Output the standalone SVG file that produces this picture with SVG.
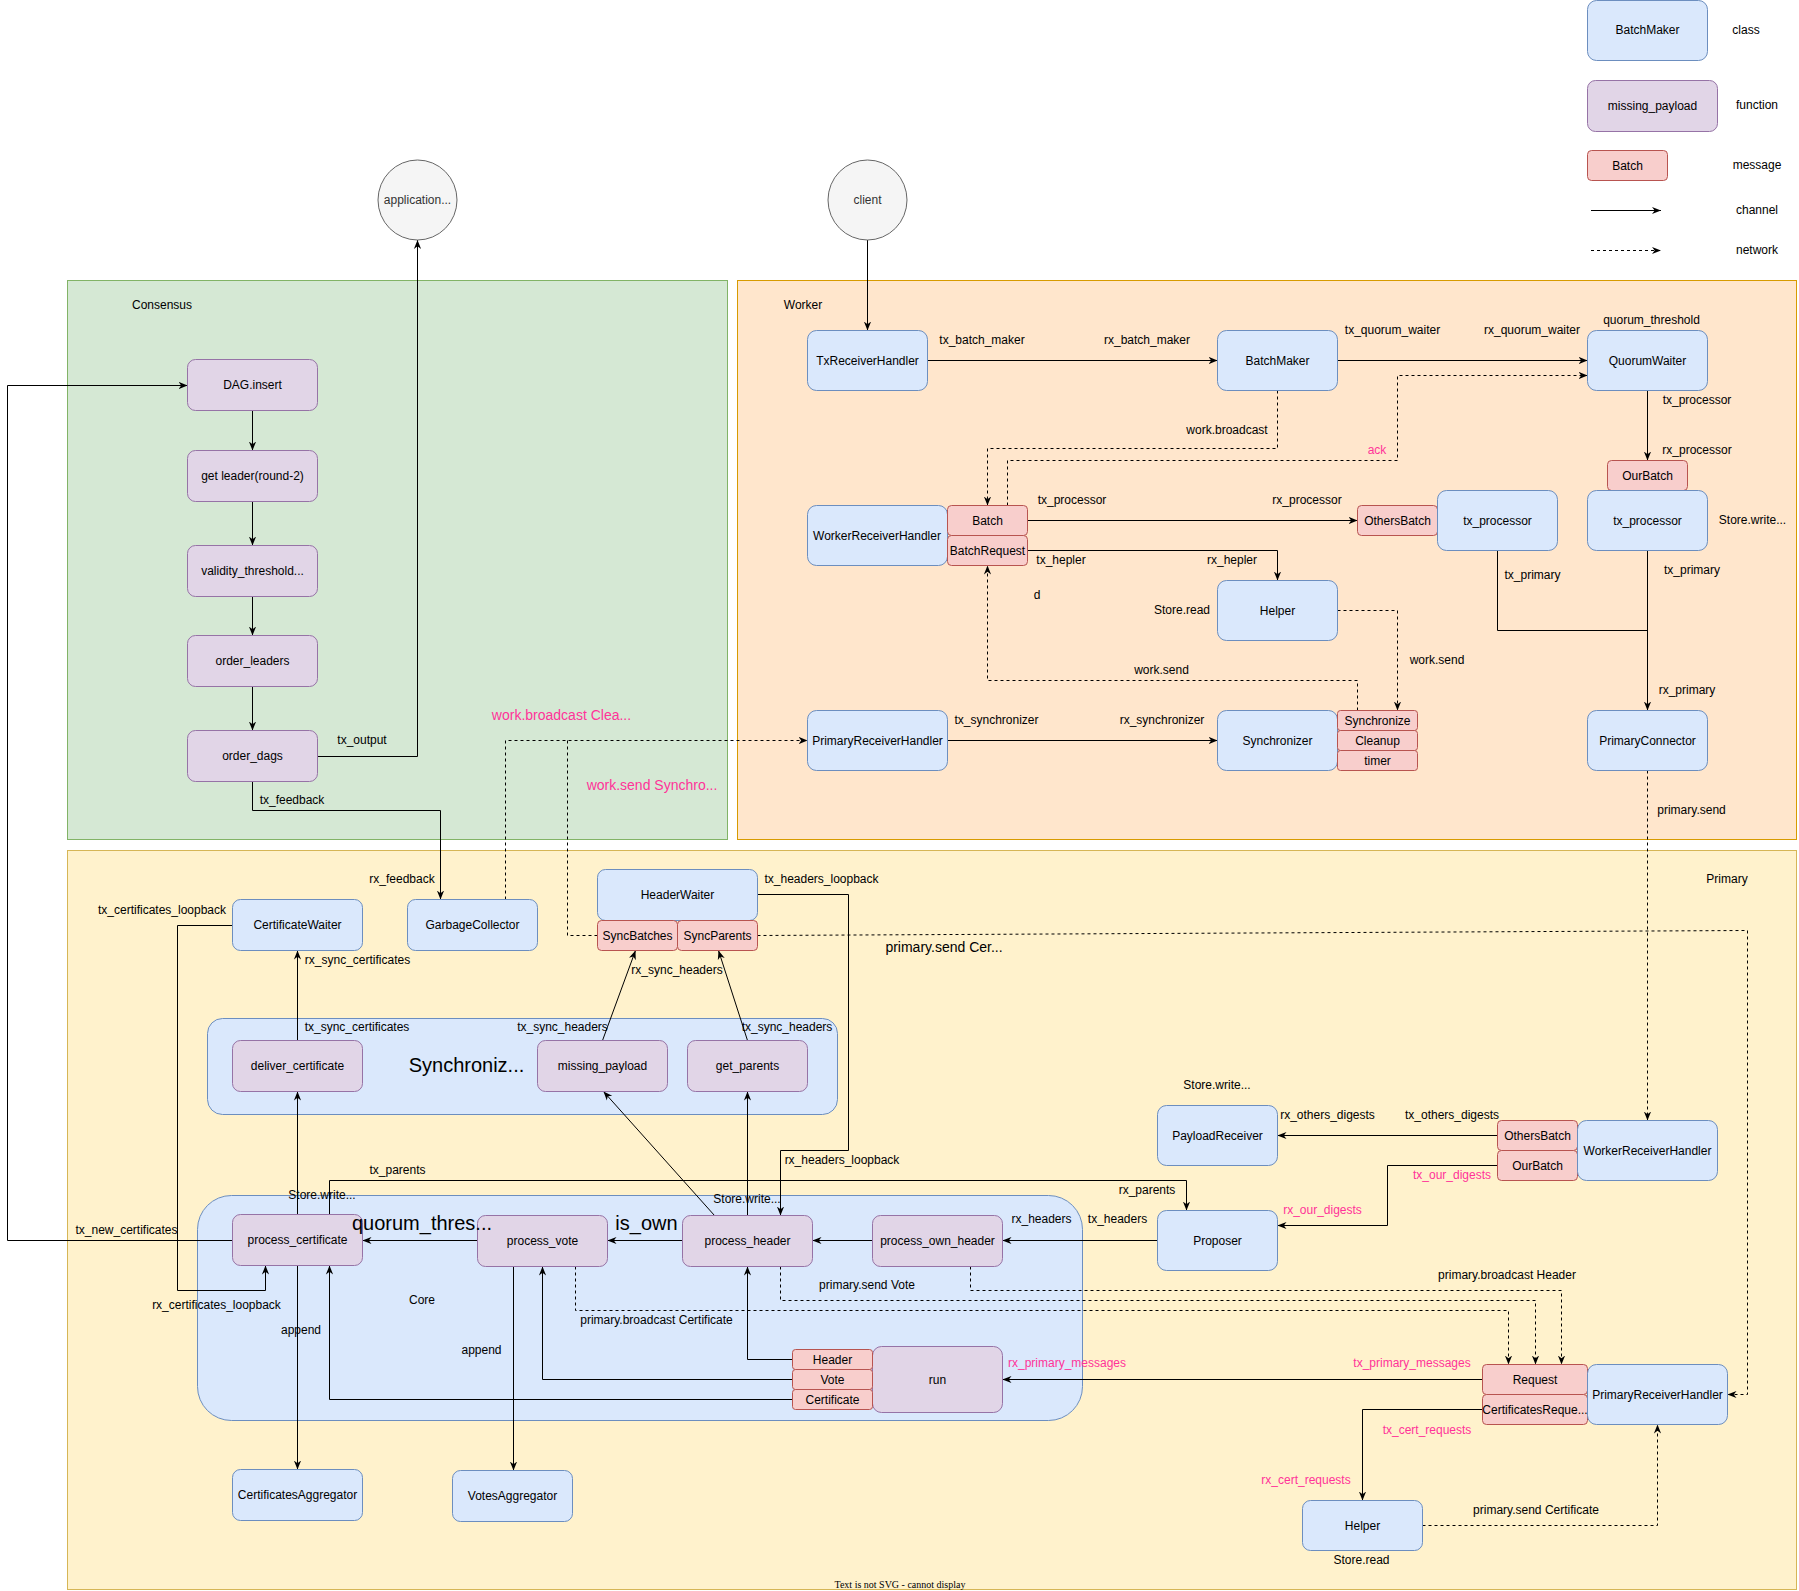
<svg xmlns="http://www.w3.org/2000/svg" width="1799" height="1591" viewBox="0 0 1799 1591">
<defs>
<style>
text{font-family:"Liberation Sans",Arial,Helvetica,sans-serif;font-size:12px;fill:#000;text-anchor:middle;dominant-baseline:central}
.big{font-size:20px}
.mid{font-size:14px}
.pk{fill:#FF3399}
.cls{fill:#dae8fc;stroke:#6c8ebf;stroke-width:1}
.fn{fill:#e1d5e7;stroke:#9673a6;stroke-width:1}
.msg{fill:#f8cecc;stroke:#b85450;stroke-width:1}
.e{fill:none;stroke:#000;stroke-width:1}
.ea{fill:none;stroke:#000;stroke-width:1;marker-end:url(#arr)}
.d{fill:none;stroke:#000;stroke-width:1;stroke-dasharray:3 3}
.da{fill:none;stroke:#000;stroke-width:1;stroke-dasharray:3 3;marker-end:url(#arr)}
.circ{fill:#f5f5f5;stroke:#666666;stroke-width:1}
</style>
<marker id="arr" viewBox="0 0 10 10" refX="10" refY="5" markerWidth="9" markerHeight="9" orient="auto" markerUnits="userSpaceOnUse">
<path d="M0,1 L10,5 L0,9 L3,5 z" fill="#000"/>
</marker>
</defs>
<rect width="1799" height="1591" fill="#ffffff"/>

<!-- groups -->
<g id="consensus-group">
<rect x="67.5" y="280.5" width="660" height="559" fill="#d5e8d4" stroke="#82b366"/>
<text x="162" y="305">Consensus</text>
</g>
<g id="worker-group">
<rect x="737.5" y="280.5" width="1059" height="559" fill="#ffe6cc" stroke="#d79b00"/>
<text x="803" y="305">Worker</text>
</g>
<g id="primary-group">
<rect x="67.5" y="850.5" width="1729" height="739" fill="#fff2cc" stroke="#d6b656"/>
<text x="1727" y="879">Primary</text>
</g>
<g id="synchronizer-container">
<rect x="207.5" y="1018.5" width="630" height="96" rx="15" class="cls"/>
<text x="466.5" y="1065" class="big">Synchroniz...</text>
</g>
<g id="core-container">
<rect x="197.5" y="1195.5" width="885" height="225" rx="34" class="cls"/>
<text x="422" y="1300">Core</text>
</g>

<!-- legend -->
<g id="legend">
<rect x="1587.5" y="0.5" width="120" height="60" rx="9" class="cls"/>
<text x="1647.5" y="30">BatchMaker</text>
<text x="1746" y="30">class</text>
<rect x="1587.5" y="80.5" width="130" height="51" rx="8" class="fn"/>
<text x="1652.5" y="106">missing_payload</text>
<text x="1757" y="105">function</text>
<rect x="1587.5" y="150.5" width="80" height="30" rx="4" class="msg"/>
<text x="1627.5" y="165.5">Batch</text>
<text x="1757" y="165">message</text>
<path d="M1591,210.5 H1661" class="ea"/>
<text x="1757" y="210">channel</text>
<path d="M1591,250.5 H1661" class="da"/>
<text x="1757" y="250">network</text>
</g>

<!-- connectors -->
<g id="connectors">
<path d="M867.5,240 V330.5" class="ea"/>
<path d="M927.5,360.5 H1217.5" class="ea"/>
<path d="M1337.5,360.5 H1587.5" class="ea"/>
<path d="M1647.5,390.5 V460.5" class="ea"/>
<path d="M1027.5,520.5 H1357.5" class="ea"/>
<path d="M1027.5,550.5 H1277.5 V580.5" class="ea"/>
<path d="M1497.5,550.5 V630.5 H1647.5" class="e"/>
<path d="M1647.5,550.5 V710.5" class="ea"/>
<path d="M947.5,740.5 H1217.5" class="ea"/>
<path d="M252.5,410.5 V450.5" class="ea"/>
<path d="M252.5,501.5 V545.5" class="ea"/>
<path d="M252.5,596.5 V635.5" class="ea"/>
<path d="M252.5,686.5 V730.5" class="ea"/>
<path d="M317.5,756.5 H417.5 V240" class="ea"/>
<path d="M252.5,781.5 V810.5 H440.5 V899.5" class="ea"/>
<path d="M297.5,1040.5 V950.5" class="ea"/>
<path d="M602.5,1040.5 L635.5,950.5" class="ea"/>
<path d="M747.5,1040.5 L718.5,950.5" class="ea"/>
<path d="M232.5,925.5 H177.5 V1290.5 H265.5 V1265.5" class="ea"/>
<path d="M757.5,894.5 H848.5 V1150.5 H780.5 V1215.5" class="ea"/>
<path d="M297.5,1214.5 V1091.5" class="ea"/>
<path d="M297.5,1265.5 V1469.5" class="ea"/>
<path d="M513.5,1266.5 V1470.5" class="ea"/>
<path d="M477.5,1240.5 H362.5" class="ea"/>
<path d="M682.5,1240.5 H607.5" class="ea"/>
<path d="M872.5,1240.5 H812.5" class="ea"/>
<path d="M1157.5,1240.5 H1002.5" class="ea"/>
<path d="M714.5,1215.5 L603.5,1091.5" class="ea"/>
<path d="M747.5,1215.5 V1091.5" class="ea"/>
<path d="M329.5,1214.5 V1180.5 H1186.5 V1210.5" class="ea"/>
<path d="M232.5,1240.5 H7.5 V385.5 H187.5" class="ea"/>
<path d="M792.5,1359.5 H747.5 V1266.5" class="ea"/>
<path d="M792.5,1379.5 H542.5 V1266.5" class="ea"/>
<path d="M792.5,1399.5 H329.5 V1265.5" class="ea"/>
<path d="M1482.5,1379.5 H1002.5" class="ea"/>
<path d="M1482.5,1409.5 H1362.5 V1500.5" class="ea"/>
<path d="M1497.5,1135.5 H1277.5" class="ea"/>
<path d="M1497.5,1165.5 H1387.5 V1225.5 H1277.5" class="ea"/>
<path d="M1277.5,390.5 V448.5 H987.5 V505.5" class="da"/>
<path d="M1007.5,505.5 V460.5 H1397.5 V375.5 H1587.5" class="da"/>
<path d="M1337.5,610.5 H1397.5 V710.5" class="da"/>
<path d="M1357.5,710.5 V680.5 H987.5 V565.5" class="da"/>
<path d="M1647.5,770.5 V1120.5" class="da"/>
<path d="M505.5,899.5 V740.5 H807.5" class="da"/>
<path d="M597.5,935.5 H567.5 V740.5" class="d"/>
<path d="M757.5,935.5 L1747.5,930.5 V1394.5 H1727.5" class="da"/>
<path d="M970.5,1266.5 V1290.5 H1561.5 V1364.5" class="da"/>
<path d="M780.5,1266.5 V1300.5 H1535.5 V1364.5" class="da"/>
<path d="M575.5,1266.5 V1310.5 H1508.5 V1364.5" class="da"/>
<path d="M1422.5,1525.5 H1657.5 V1424.5" class="da"/>
</g>

<!-- external -->
<g id="application"><ellipse cx="417.5" cy="200" rx="39.5" ry="40" class="circ"/><text x="417.5" y="200" style="fill:#333">application...</text></g>
<g id="client"><ellipse cx="867.5" cy="200" rx="39.5" ry="40" class="circ"/><text x="867.5" y="200" style="fill:#333">client</text></g>

<!-- consensus nodes -->
<g id="dag-insert"><rect x="187.5" y="359.5" width="130" height="51" rx="8" class="fn"/><text x="252.5" y="385">DAG.insert</text></g>
<g id="get-leader"><rect x="187.5" y="450.5" width="130" height="51" rx="8" class="fn"/><text x="252.5" y="476">get leader(round-2)</text></g>
<g id="validity-threshold"><rect x="187.5" y="545.5" width="130" height="51" rx="8" class="fn"/><text x="252.5" y="571">validity_threshold...</text></g>
<g id="order-leaders"><rect x="187.5" y="635.5" width="130" height="51" rx="8" class="fn"/><text x="252.5" y="661">order_leaders</text></g>
<g id="order-dags"><rect x="187.5" y="730.5" width="130" height="51" rx="8" class="fn"/><text x="252.5" y="756">order_dags</text></g>

<!-- worker nodes -->
<g id="tx-receiver-handler"><rect x="807.5" y="330.5" width="120" height="60" rx="9" class="cls"/><text x="867.5" y="360.5">TxReceiverHandler</text></g>
<g id="batch-maker"><rect x="1217.5" y="330.5" width="120" height="60" rx="9" class="cls"/><text x="1277.5" y="360.5">BatchMaker</text></g>
<g id="quorum-waiter"><rect x="1587.5" y="330.5" width="120" height="60" rx="9" class="cls"/><text x="1647.5" y="360.5">QuorumWaiter</text></g>
<g id="worker-receiver-handler"><rect x="807.5" y="505.5" width="140" height="60" rx="9" class="cls"/><text x="877" y="535.5">WorkerReceiverHandler</text></g>
<g id="msg-batch"><rect x="947.5" y="505.5" width="80" height="30" rx="4" class="msg"/><text x="987.5" y="520.5">Batch</text></g>
<g id="msg-batchrequest"><rect x="947.5" y="535.5" width="80" height="30" rx="4" class="msg"/><text x="987.5" y="550.5">BatchRequest</text></g>
<g id="worker-helper"><rect x="1217.5" y="580.5" width="120" height="60" rx="9" class="cls"/><text x="1277.5" y="610.5">Helper</text></g>
<g id="primary-receiver-handler-w"><rect x="807.5" y="710.5" width="140" height="60" rx="9" class="cls"/><text x="877.5" y="740.5">PrimaryReceiverHandler</text></g>
<g id="synchronizer-w"><rect x="1217.5" y="710.5" width="120" height="60" rx="9" class="cls"/><text x="1277.5" y="740.5">Synchronizer</text></g>
<g id="msg-synchronize"><rect x="1337.5" y="710.5" width="80" height="20" rx="3" class="msg"/><text x="1377.5" y="720.5">Synchronize</text></g>
<g id="msg-cleanup"><rect x="1337.5" y="730.5" width="80" height="20" rx="3" class="msg"/><text x="1377.5" y="740.5">Cleanup</text></g>
<g id="msg-timer"><rect x="1337.5" y="750.5" width="80" height="20" rx="3" class="msg"/><text x="1377.5" y="760.5">timer</text></g>
<g id="msg-othersbatch-w"><rect x="1357.5" y="505.5" width="80" height="30" rx="4" class="msg"/><text x="1397.5" y="520.5">OthersBatch</text></g>
<g id="tx-processor-1"><rect x="1437.5" y="490.5" width="120" height="60" rx="9" class="cls"/><text x="1497.5" y="520.5">tx_processor</text></g>
<g id="msg-ourbatch-w"><rect x="1607.5" y="460.5" width="80" height="30" rx="4" class="msg"/><text x="1647.5" y="475.5">OurBatch</text></g>
<g id="tx-processor-2"><rect x="1587.5" y="490.5" width="120" height="60" rx="9" class="cls"/><text x="1647.5" y="520.5">tx_processor</text></g>
<g id="primary-connector"><rect x="1587.5" y="710.5" width="120" height="60" rx="9" class="cls"/><text x="1647.5" y="740.5">PrimaryConnector</text></g>

<!-- primary nodes -->
<g id="certificate-waiter"><rect x="232.5" y="899.5" width="130" height="51" rx="8" class="cls"/><text x="297.5" y="925">CertificateWaiter</text></g>
<g id="garbage-collector"><rect x="407.5" y="899.5" width="130" height="51" rx="8" class="cls"/><text x="472.5" y="925">GarbageCollector</text></g>
<g id="header-waiter"><rect x="597.5" y="869.5" width="160" height="51" rx="8" class="cls"/><text x="677.5" y="894.5">HeaderWaiter</text></g>
<g id="msg-syncbatches"><rect x="597.5" y="920.5" width="80" height="30" rx="4" class="msg"/><text x="637.5" y="935.5">SyncBatches</text></g>
<g id="msg-syncparents"><rect x="677.5" y="920.5" width="80" height="30" rx="4" class="msg"/><text x="717.5" y="935.5">SyncParents</text></g>
<g id="deliver-certificate"><rect x="232.5" y="1040.5" width="130" height="51" rx="8" class="fn"/><text x="297.5" y="1066">deliver_certificate</text></g>
<g id="missing-payload"><rect x="537.5" y="1040.5" width="130" height="51" rx="8" class="fn"/><text x="602.5" y="1066">missing_payload</text></g>
<g id="get-parents"><rect x="687.5" y="1040.5" width="120" height="51" rx="8" class="fn"/><text x="747.5" y="1066">get_parents</text></g>
<g id="process-certificate"><rect x="232.5" y="1214.5" width="130" height="51" rx="8" class="fn"/><text x="297.5" y="1240">process_certificate</text></g>
<g id="process-vote"><rect x="477.5" y="1215.5" width="130" height="51" rx="8" class="fn"/><text x="542.5" y="1241">process_vote</text></g>
<g id="process-header"><rect x="682.5" y="1215.5" width="130" height="51" rx="8" class="fn"/><text x="747.5" y="1241">process_header</text></g>
<g id="process-own-header"><rect x="872.5" y="1215.5" width="130" height="51" rx="8" class="fn"/><text x="937.5" y="1241">process_own_header</text></g>
<g id="run"><rect x="872.5" y="1346.5" width="130" height="66" rx="9" class="fn"/><text x="937.5" y="1379.5">run</text></g>
<g id="msg-header"><rect x="792.5" y="1349.5" width="80" height="20" rx="3" class="msg"/><text x="832.5" y="1359.5">Header</text></g>
<g id="msg-vote"><rect x="792.5" y="1369.5" width="80" height="20" rx="3" class="msg"/><text x="832.5" y="1379.5">Vote</text></g>
<g id="msg-certificate"><rect x="792.5" y="1389.5" width="80" height="20" rx="3" class="msg"/><text x="832.5" y="1399.5">Certificate</text></g>
<g id="certificates-aggregator"><rect x="232.5" y="1469.5" width="130" height="51" rx="8" class="cls"/><text x="297.5" y="1495">CertificatesAggregator</text></g>
<g id="votes-aggregator"><rect x="452.5" y="1470.5" width="120" height="51" rx="8" class="cls"/><text x="512.5" y="1496">VotesAggregator</text></g>
<g id="payload-receiver"><rect x="1157.5" y="1105.5" width="120" height="60" rx="9" class="cls"/><text x="1217.5" y="1135.5">PayloadReceiver</text></g>
<g id="msg-othersbatch-p"><rect x="1497.5" y="1120.5" width="80" height="30" rx="4" class="msg"/><text x="1537.5" y="1135.5">OthersBatch</text></g>
<g id="msg-ourbatch-p"><rect x="1497.5" y="1150.5" width="80" height="30" rx="4" class="msg"/><text x="1537.5" y="1165.5">OurBatch</text></g>
<g id="worker-receiver-handler-p"><rect x="1577.5" y="1120.5" width="140" height="60" rx="9" class="cls"/><text x="1647.5" y="1150.5">WorkerReceiverHandler</text></g>
<g id="proposer"><rect x="1157.5" y="1210.5" width="120" height="60" rx="9" class="cls"/><text x="1217.5" y="1240.5">Proposer</text></g>
<g id="msg-request"><rect x="1482.5" y="1364.5" width="105" height="30" rx="4" class="msg"/><text x="1535" y="1379.5">Request</text></g>
<g id="msg-certificatesrequest"><rect x="1482.5" y="1394.5" width="105" height="30" rx="4" class="msg"/><text x="1535" y="1409.5">CertificatesReque...</text></g>
<g id="primary-receiver-handler-p"><rect x="1587.5" y="1364.5" width="140" height="60" rx="9" class="cls"/><text x="1657.5" y="1394.5">PrimaryReceiverHandler</text></g>
<g id="primary-helper"><rect x="1302.5" y="1500.5" width="120" height="50" rx="8" class="cls"/><text x="1362.5" y="1525.5">Helper</text></g>

<!-- labels -->
<g id="labels">
<text x="362" y="740">tx_output</text>
<text x="292" y="800">tx_feedback</text>
<text x="402" y="879">rx_feedback</text>
<text x="982" y="340">tx_batch_maker</text>
<text x="1147" y="340">rx_batch_maker</text>
<text x="1392.5" y="330">tx_quorum_waiter</text>
<text x="1532" y="330">rx_quorum_waiter</text>
<text x="1651.5" y="320">quorum_threshold</text>
<text x="1697" y="400">tx_processor</text>
<text x="1697" y="450">rx_processor</text>
<text x="1227" y="430">work.broadcast</text>
<text x="1377" y="450" class="pk">ack</text>
<text x="1072" y="500">tx_processor</text>
<text x="1307" y="500">rx_processor</text>
<text x="1061" y="560">tx_hepler</text>
<text x="1232" y="560">rx_hepler</text>
<text x="1037" y="595">d</text>
<text x="1182" y="610">Store.read</text>
<text x="1752.5" y="520">Store.write...</text>
<text x="1532.5" y="575">tx_primary</text>
<text x="1692" y="570">tx_primary</text>
<text x="1437" y="660">work.send</text>
<text x="1161.5" y="670">work.send</text>
<text x="1687" y="690">rx_primary</text>
<text x="996.5" y="720">tx_synchronizer</text>
<text x="1162" y="720">rx_synchronizer</text>
<text x="1691.5" y="810">primary.send</text>
<text x="561.5" y="715" class="mid pk">work.broadcast Clea...</text>
<text x="652" y="785" class="mid pk">work.send Synchro...</text>
<text x="162" y="910">tx_certificates_loopback</text>
<text x="357.5" y="960">rx_sync_certificates</text>
<text x="357" y="1027">tx_sync_certificates</text>
<text x="562.5" y="1027">tx_sync_headers</text>
<text x="787" y="1027">tx_sync_headers</text>
<text x="677" y="970">rx_sync_headers</text>
<text x="821.5" y="879">tx_headers_loopback</text>
<text x="944" y="947" class="mid">primary.send Cer...</text>
<text x="1217" y="1085">Store.write...</text>
<text x="1327.5" y="1115">rx_others_digests</text>
<text x="1452" y="1115">tx_others_digests</text>
<text x="1452" y="1175" class="pk">tx_our_digests</text>
<text x="1322.5" y="1210" class="pk">rx_our_digests</text>
<text x="842" y="1160">rx_headers_loopback</text>
<text x="397.5" y="1170">tx_parents</text>
<text x="1147" y="1190">rx_parents</text>
<text x="322" y="1194.5">Store.write...</text>
<text x="747" y="1198.5">Store.write...</text>
<text x="422" y="1223" class="big">quorum_thres...</text>
<text x="646.5" y="1223" class="big">is_own</text>
<text x="1041.5" y="1219">rx_headers</text>
<text x="1117.5" y="1219">tx_headers</text>
<text x="126.5" y="1230">tx_new_certificates</text>
<text x="1507" y="1275">primary.broadcast Header</text>
<text x="867" y="1285">primary.send Vote</text>
<text x="216.5" y="1305">rx_certificates_loopback</text>
<text x="656.5" y="1320">primary.broadcast Certificate</text>
<text x="301" y="1330">append</text>
<text x="481.5" y="1350">append</text>
<text x="1412" y="1363" class="pk">tx_primary_messages</text>
<text x="1067" y="1363" class="pk">rx_primary_messages</text>
<text x="1427" y="1430" class="pk">tx_cert_requests</text>
<text x="1306" y="1480" class="pk">rx_cert_requests</text>
<text x="1536" y="1510">primary.send Certificate</text>
<text x="1361.5" y="1560">Store.read</text>
<text x="900" y="1584" style="font-family:'Liberation Serif','Times New Roman',serif;font-size:10px">Text is not SVG - cannot display</text>
</g>
</svg>
